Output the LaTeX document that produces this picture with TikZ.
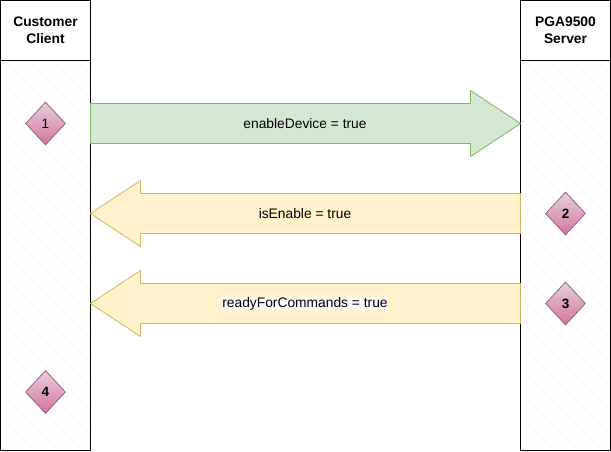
\documentclass[tikz,border=0pt]{standalone}
\usepackage{fontspec}
\setmainfont{Liberation Sans}
\usetikzlibrary{shapes.geometric}
\definecolor{greenfill}{HTML}{D5E8D4}
\definecolor{greenline}{HTML}{82B366}
\definecolor{yellowfill}{HTML}{FFF2CC}
\definecolor{yellowline}{HTML}{D6B656}
\definecolor{pinktop}{HTML}{E6D0DE}
\definecolor{pinkbot}{HTML}{D5739D}
\definecolor{pinkline}{HTML}{996185}
\definecolor{hatchcol}{HTML}{F9F9F9}
\definecolor{labelbg}{HTML}{FAFAFC}
\tikzset{
  lanebox/.style={draw=black,line width=1pt},
  hatchline/.style={draw=hatchcol,line width=1pt},
  greenarrow/.style={draw=greenline,fill=greenfill,line width=0.8pt,line join=miter},
  yellowarrow/.style={draw=yellowline,fill=yellowfill,line width=0.8pt,line join=miter},
  marker/.style={diamond,draw=pinkline,line width=0.8pt,top color=pinktop,bottom color=pinkbot,
    shading angle=0,inner sep=0pt,minimum width=40pt,minimum height=43pt,aspect=0.93,
    text=black,font=\fontsize{13.5}{15}\selectfont\bfseries},
  headlabel/.style={align=center,text=black,font=\fontsize{13.8}{17}\selectfont\bfseries},
  arrowlabel/.style={text=black,inner sep=0.5pt,font=\fontsize{13.8}{15}\selectfont},
}
\begin{document}
\begin{tikzpicture}[x=1pt,y=-1pt]
\useasboundingbox (0,0) rectangle (611,451);
\fill[white] (0,0) rectangle (611,451);
% lane hatching
\begin{scope}
  \clip (0.5,60.5) rectangle (90.5,450.5);
  \foreach \k in {-100,-88,...,460} \draw[hatchline] (0,\k) -- (91,\k+91);
\end{scope}
\begin{scope}
  \clip (520.5,60.5) rectangle (610.5,450.5);
  \foreach \k in {-100,-88,...,460} \draw[hatchline] (520,\k) -- (611,\k+91);
\end{scope}
% lanes
\draw[lanebox] (0.5,0.5) rectangle (90.5,450.5);
\draw[lanebox] (0.5,60.5) -- (90.5,60.5);
\draw[lanebox] (520.5,0.5) rectangle (610.5,450.5);
\draw[lanebox] (520.5,60.5) -- (610.5,60.5);
\node[headlabel] (client) at (45.5,30.5) {Customer\\Client};
\node[headlabel] (server) at (565.5,30.5) {PGA9500\\Server};
% block arrows
\draw[greenarrow] (90.5,103.5) -- (470.5,103.5) -- (470.5,90.5) -- (520.5,123.5) -- (470.5,156.5) -- (470.5,143.5) -- (90.5,143.5) -- cycle;
\draw[yellowarrow] (520.5,193.5) -- (140.5,193.5) -- (140.5,180.5) -- (90.5,213.5) -- (140.5,246.5) -- (140.5,233.5) -- (520.5,233.5) -- cycle;
\draw[yellowarrow] (520.5,283.5) -- (140.5,283.5) -- (140.5,270.5) -- (90.5,303.5) -- (140.5,336.5) -- (140.5,323.5) -- (520.5,323.5) -- cycle;
\node[arrowlabel] (l1) at (305,123.5) {enableDevice = true};
\node[arrowlabel] (l2) at (305,213.5) {isEnable = true};
\node[arrowlabel,fill=labelbg] (l3) at (305,303.5) {readyForCommands = true};
% markers
\node[marker,font=\fontsize{13.5}{15}\selectfont] (m1) at (45.5,123.5) {1};
\node[marker] (m2) at (565.5,213.5) {2};
\node[marker] (m3) at (565.5,303.5) {3};
\node[marker] (m4) at (45.5,392) {4};
\end{tikzpicture}
\end{document}
